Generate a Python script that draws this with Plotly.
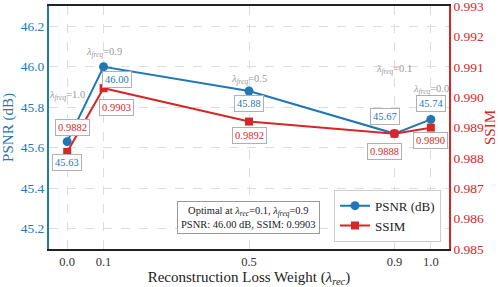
import plotly.graph_objects as go

# ---- data ----
lambda_rec = [0.0, 0.1, 0.5, 0.9, 1.0]
lambda_freq_labels = ["1.0", "0.9", "0.5", "0.1", "0.0"]
psnr = [45.63, 46.00, 45.88, 45.67, 45.74]
ssim = [0.9882, 0.9903, 0.9892, 0.9888, 0.9890]
x_ticks = [0.0, 0.1, 0.5, 0.9, 1.0]
psnr_ticks = [45.2, 45.4, 45.6, 45.8, 46.0, 46.2]
ssim_ticks = [0.985, 0.986, 0.987, 0.988, 0.989, 0.990, 0.991, 0.992, 0.993]

BLUE = "#1f77b4"
RED = "#d62728"
FONT = "Liberation Serif, Times New Roman, DejaVu Serif, serif"

fig = go.Figure()
fig.add_trace(go.Scatter(
    x=lambda_rec, y=psnr, mode="lines+markers", name="PSNR (dB)",
    line=dict(color=BLUE, width=2), marker=dict(symbol="circle", size=9, color=BLUE),
    yaxis="y"))
fig.add_trace(go.Scatter(
    x=lambda_rec, y=ssim, mode="lines+markers", name="SSIM",
    line=dict(color=RED, width=2), marker=dict(symbol="square", size=8, color=RED),
    yaxis="y2"))

annotations = []
# value label offsets (style only)
psnr_off = [(0, -21), (13, -13), (0, -12), (-9, 17), (0, 16)]
ssim_off = [(5, 24), (13, -19), (0, -14), (-10, -18), (0, -13)]
lam_off = [46, 14, 12, 64, 30]
for i, xv in enumerate(lambda_rec):
    annotations.append(dict(
        x=xv, y=psnr[i], xref="x", yref="y", text=f"{psnr[i]:.2f}", showarrow=False,
        xshift=psnr_off[i][0], yshift=psnr_off[i][1],
        font=dict(family=FONT, size=10.5, color=BLUE),
        bgcolor="white", bordercolor="#b0b0b0", borderwidth=1, borderpad=2))
    annotations.append(dict(
        x=xv, y=ssim[i], xref="x", yref="y2", text=f"{ssim[i]:.4f}", showarrow=False,
        xshift=ssim_off[i][0], yshift=ssim_off[i][1],
        font=dict(family=FONT, size=10.5, color=RED),
        bgcolor="white", bordercolor="#b0b0b0", borderwidth=1, borderpad=2))
    annotations.append(dict(
        x=xv, y=psnr[i], xref="x", yref="y",
        text=f"<i>λ<sub>freq</sub></i>={lambda_freq_labels[i]}", showarrow=False,
        yshift=lam_off[i], font=dict(family=FONT, size=10.5, color="#999999")))

annotations.append(dict(
    x=0.4975, y=0.128, xref="paper", yref="paper", xanchor="center", yanchor="middle",
    text="Optimal at <i>λ<sub>rec</sub></i>=0.1, <i>λ<sub>freq</sub></i>=0.9<br>PSNR: 46.00 dB, SSIM: 0.9903",
    showarrow=False, align="center",
    font=dict(family=FONT, size=10.5, color="#222"),
    bgcolor="white", bordercolor="#999999", borderwidth=1, borderpad=3))

fig.update_layout(
    width=498, height=287,
    margin=dict(l=49, r=49, t=6, b=38, autoexpand=False),
    plot_bgcolor="white", paper_bgcolor="white",
    font=dict(family=FONT, size=12, color="#222"),
    showlegend=True,
    legend=dict(x=0.98, y=0.03, xanchor="right", yanchor="bottom",
                bgcolor="white", bordercolor="#cccccc", borderwidth=1,
                font=dict(family=FONT, size=13, color="#222"),
                itemwidth=30, tracegroupgap=0),
    annotations=annotations,
    xaxis=dict(
        range=[-0.05, 1.05], tickvals=x_ticks, ticktext=[f"{v:.1f}" for v in x_ticks],
        showgrid=True, gridcolor="#dcdcdc", griddash="dash", gridwidth=1,
        zeroline=False, showline=True, linecolor="#222", linewidth=1.5, mirror=True,
        ticks="", automargin=False, tickfont=dict(family=FONT, size=12.5, color="#333"),
        title=dict(text="Reconstruction Loss Weight (<i>λ<sub>rec</sub></i>)",
                   font=dict(family=FONT, size=15, color="#222"), standoff=4)),
    yaxis=dict(
        range=[45.1, 46.3], tickvals=psnr_ticks, ticktext=[f"{v:.1f}" for v in psnr_ticks],
        showgrid=True, gridcolor="#dcdcdc", griddash="dash", gridwidth=1,
        zeroline=False, showline=True, linecolor=BLUE, linewidth=2,
        ticks="", automargin=False, tickfont=dict(family=FONT, size=13.5, color=BLUE),
        title=dict(text="PSNR (dB)", font=dict(family=FONT, size=15, color=BLUE), standoff=6)),
    yaxis2=dict(
        range=[0.985, 0.99301], overlaying="y", side="right",
        tickvals=ssim_ticks, ticktext=[f"{v:.3f}" for v in ssim_ticks],
        showgrid=False, zeroline=False, showline=True, linecolor=RED, linewidth=1.5,
        ticks="", automargin=False, ticklabeloverflow="allow",
        tickfont=dict(family=FONT, size=13.5, color=RED),
        title=dict(text="SSIM", font=dict(family=FONT, size=15, color=RED), standoff=6)),
)

fig.write_html("out.html", config={"displayModeBar": False},
               post_script="document.body.style.margin='0';")
